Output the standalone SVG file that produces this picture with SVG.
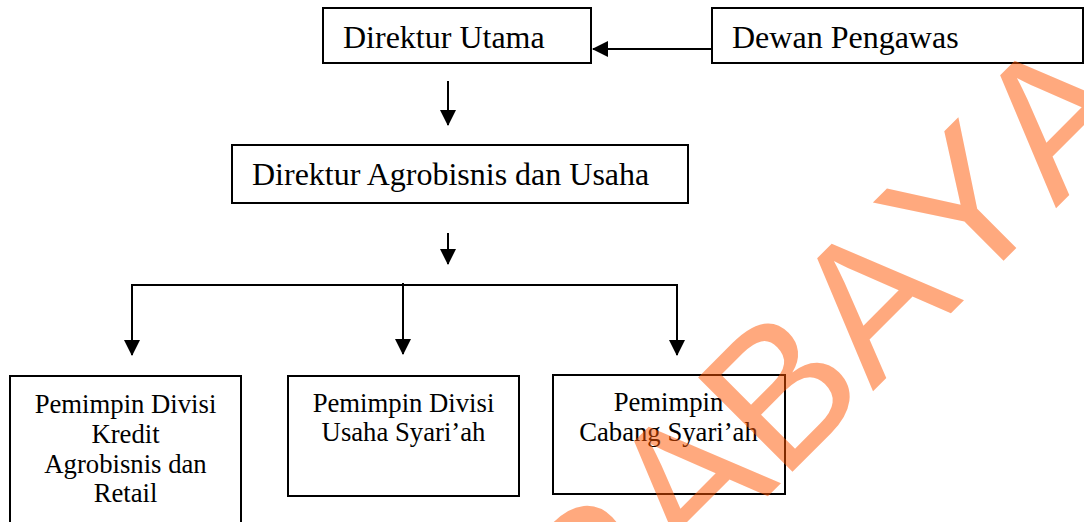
<svg xmlns="http://www.w3.org/2000/svg" width="1084" height="522" viewBox="0 0 1084 522">
<style>
.box{fill:#fff;stroke:#000;stroke-width:2}
.big{font-family:"Liberation Serif","Times New Roman",serif;font-size:32px;fill:#000}
.small{font-family:"Liberation Serif","Times New Roman",serif;font-size:26.7px;fill:#000;text-anchor:middle}
.ln{fill:none;stroke:#000;stroke-width:2}
.wm{font-family:"Liberation Sans",Arial,sans-serif;font-size:194px;fill:#FF5500;opacity:0.5;font-kerning:none}
</style>
<defs>
<marker id="ah" markerUnits="userSpaceOnUse" markerWidth="16" markerHeight="16" refX="15" refY="8" orient="auto">
<path d="M0,0 L16,8 L0,16 z" fill="#000"/>
</marker>
</defs>
<rect width="1084" height="522" fill="#fff"/>
<g id="connectors">
<line class="ln" x1="712" y1="49" x2="593" y2="49" marker-end="url(#ah)"/>
<line class="ln" x1="448" y1="81" x2="448" y2="125" marker-end="url(#ah)"/>
<line class="ln" x1="448" y1="233" x2="448" y2="264" marker-end="url(#ah)"/>
<polyline class="ln" points="132,285 677,285 677,355" marker-end="url(#ah)"/>
<line class="ln" x1="132" y1="284" x2="132" y2="355" marker-end="url(#ah)"/>
<line class="ln" x1="403" y1="283" x2="403" y2="354" marker-end="url(#ah)"/>
</g>
<g id="direktur-utama">
<rect class="box" x="323" y="8" width="268" height="55"/>
<text class="big" x="343" y="48">Direktur Utama</text>
</g>
<g id="dewan-pengawas">
<rect class="box" x="712" y="8" width="371" height="55"/>
<text class="big" x="732" y="48">Dewan Pengawas</text>
</g>
<g id="direktur-agrobisnis">
<rect class="box" x="232" y="145" width="456" height="58"/>
<text class="big" x="252" y="185">Direktur Agrobisnis dan Usaha</text>
</g>
<g id="divisi-kredit">
<rect class="box" x="10" y="376" width="231" height="160"/>
<text class="small" x="125.5" y="413">Pemimpin Divisi</text>
<text class="small" x="125.5" y="443">Kredit</text>
<text class="small" x="125.5" y="473">Agrobisnis dan</text>
<text class="small" x="125.5" y="502">Retail</text>
</g>
<g id="divisi-usaha-syariah">
<rect class="box" x="288" y="376" width="231" height="120"/>
<text class="small" x="403.5" y="412">Pemimpin Divisi</text>
<text class="small" x="403.5" y="441">Usaha Syari’ah</text>
</g>
<g id="cabang-syariah">
<rect class="box" x="553" y="375" width="232" height="119"/>
<text class="small" x="668.5" y="411">Pemimpin</text>
<text class="small" x="668.5" y="441">Cabang Syari’ah</text>
</g>
<text class="wm" transform="rotate(-45)" x="-328" y="894">SURABAYA</text>
</svg>
